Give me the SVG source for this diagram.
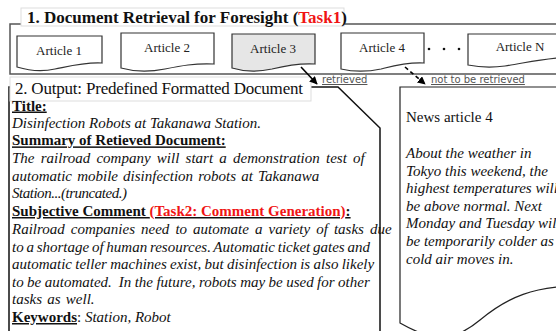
<svg xmlns="http://www.w3.org/2000/svg" width="556" height="331" viewBox="0 0 556 331">
<defs>
<style>
.doc{fill:#fff;stroke:#333;stroke-width:1.2}
.doc3{fill:#e6e6e6;stroke:#333;stroke-width:1.2}
.art{font-size:13px;fill:#222;text-anchor:middle}
.body{font-size:15px;fill:#111}
.it{font-style:italic}
.b{font-weight:bold}
.u{text-decoration:underline}
.red{fill:#f01414}
.lab{font-size:10px;fill:#555;text-decoration:underline}
.conn{stroke:#000;stroke-width:1.6;fill:none}
</style>
<marker id="ah" viewBox="0 0 10 10" refX="9" refY="5" markerWidth="5" markerHeight="5" orient="auto">
<path d="M0,0 L10,5 L0,10 Z" fill="#000"/>
</marker>
</defs>
<rect width="556" height="331" fill="#fff"/>

<g id="task1" font-family="Liberation Serif, serif">
<rect x="10" y="24" width="560" height="50" fill="none" stroke="#555" stroke-width="1.5"/>
<rect x="21" y="8" width="323" height="18" fill="#fff" stroke="#ddd" stroke-width="1"/>
<text x="27" y="23" font-size="17" font-weight="bold" fill="#111">1. Document Retrieval for Foresight (<tspan class="red">Task1</tspan>)</text>
</g>

<g id="article1" font-family="Liberation Serif, serif">
<path class="doc" d="M17,36 H102 V63 C85,62 70,66 55,69 C42,72 30,71 17,67 Z"/>
<text class="art" x="59" y="55">Article 1</text>
</g>
<g id="article2" font-family="Liberation Serif, serif">
<path class="doc" d="M121,33 H214 V64 C195,63 180,66 165,69 C150,72 135,72 121,68 Z"/>
<text class="art" x="167" y="52">Article 2</text>
</g>
<g id="article3" font-family="Liberation Serif, serif">
<path class="doc3" d="M232,34 H315 V64 C298,63 284,66 272,69 C258,72 245,72 232,68 Z"/>
<text class="art" x="273" y="53">Article 3</text>
</g>
<g id="article4" font-family="Liberation Serif, serif">
<path class="doc" d="M341,33 H424 V63 C407,62 393,66 381,69 C367,72 354,72 341,69 Z"/>
<text class="art" x="382" y="52">Article 4</text>
</g>
<g id="dots">
<circle cx="429" cy="49" r="1.3" fill="#111"/>
<circle cx="444" cy="49" r="1.3" fill="#111"/>
<circle cx="459" cy="49" r="1.3" fill="#111"/>
</g>
<g id="articleN" font-family="Liberation Serif, serif">
<path class="doc" d="M468,34 H570 V57 C545,58 525,63 505,66 C490,68 478,67 468,65 Z"/>
<text class="art" x="520" y="51">Article N</text>
</g>

<g id="output" font-family="Liberation Serif, serif">
<path d="M9,340 V87 H338 L380,128 V340" fill="#fff" stroke="#111" stroke-width="1.5"/>
<rect x="10" y="77" width="301" height="24" fill="#fff" stroke="#ddd" stroke-width="1"/>
<text x="15" y="94" font-size="17" fill="#111" textLength="288">2. Output: Predefined Formatted Document</text>
<text class="body b u" x="12" y="110.5">Title:</text>
<text class="body it" x="12" y="127.8">Disinfection Robots at Takanawa Station.</text>
<text class="body b u" x="12" y="145.4">Summary of Retieved Document:</text>
<text class="body it" x="12" y="163" word-spacing="2.5">The railroad company will start a demonstration test of</text>
<text class="body it" x="12" y="180.6" word-spacing="1.4">automatic mobile disinfection robots at Takanawa</text>
<text class="body it" x="12" y="198.2" textLength="115">Station...(truncated.)</text>
<text class="body b u" x="12" y="216">Subjective Comment <tspan class="red">(Task2: Comment Generation)</tspan>:</text>
<text class="body it" x="12" y="234" word-spacing="2.3">Railroad companies need to automate a variety of tasks due</text>
<text class="body it" x="12" y="251.6" word-spacing="-1">to a shortage of human resources. Automatic ticket gates and</text>
<text class="body it" x="12" y="269.2" word-spacing="-0.5">automatic teller machines exist, but disinfection is also likely</text>
<text class="body it" x="12" y="286.8" xml:space="preserve" word-spacing="-0.3">to be automated.  In the future, robots may be used for other</text>
<text class="body it" x="12" y="304.4" word-spacing="1.5">tasks as well.</text>
<text class="body" x="12" y="322"><tspan class="b u">Keywords</tspan>: <tspan class="it">Station, Robot</tspan></text>
</g>

<g id="news4" font-family="Liberation Serif, serif">
<path d="M570,87 H400 V323 C430,340 450,345 480,320 C510,295 535,288 570,286" fill="#fff" stroke="#222" stroke-width="1.2"/>
<text class="body" x="406" y="122">News article 4</text>
<text class="body it" x="406" y="158">About the weather in</text>
<text class="body it" x="406" y="175.6">Tokyo this weekend, the</text>
<text class="body it" x="406" y="193.2">highest temperatures will</text>
<text class="body it" x="406" y="210.8">be above normal. Next</text>
<text class="body it" x="406" y="228.4">Monday and Tuesday will</text>
<text class="body it" x="406" y="246">be temporarily colder as</text>
<text class="body it" x="406" y="263.6">cold air moves in.</text>
</g>

<g id="connectors" font-family="DejaVu Sans, sans-serif">
<line class="conn" x1="301" y1="67" x2="317" y2="84" marker-end="url(#ah)"/>
<line class="conn" x1="405" y1="67" x2="425" y2="84" stroke-dasharray="4,3" marker-end="url(#ah)"/>
<text class="lab" x="322" y="83">retrieved</text>
<text class="lab" x="431" y="83">not to be retrieved</text>
</g>
</svg>
